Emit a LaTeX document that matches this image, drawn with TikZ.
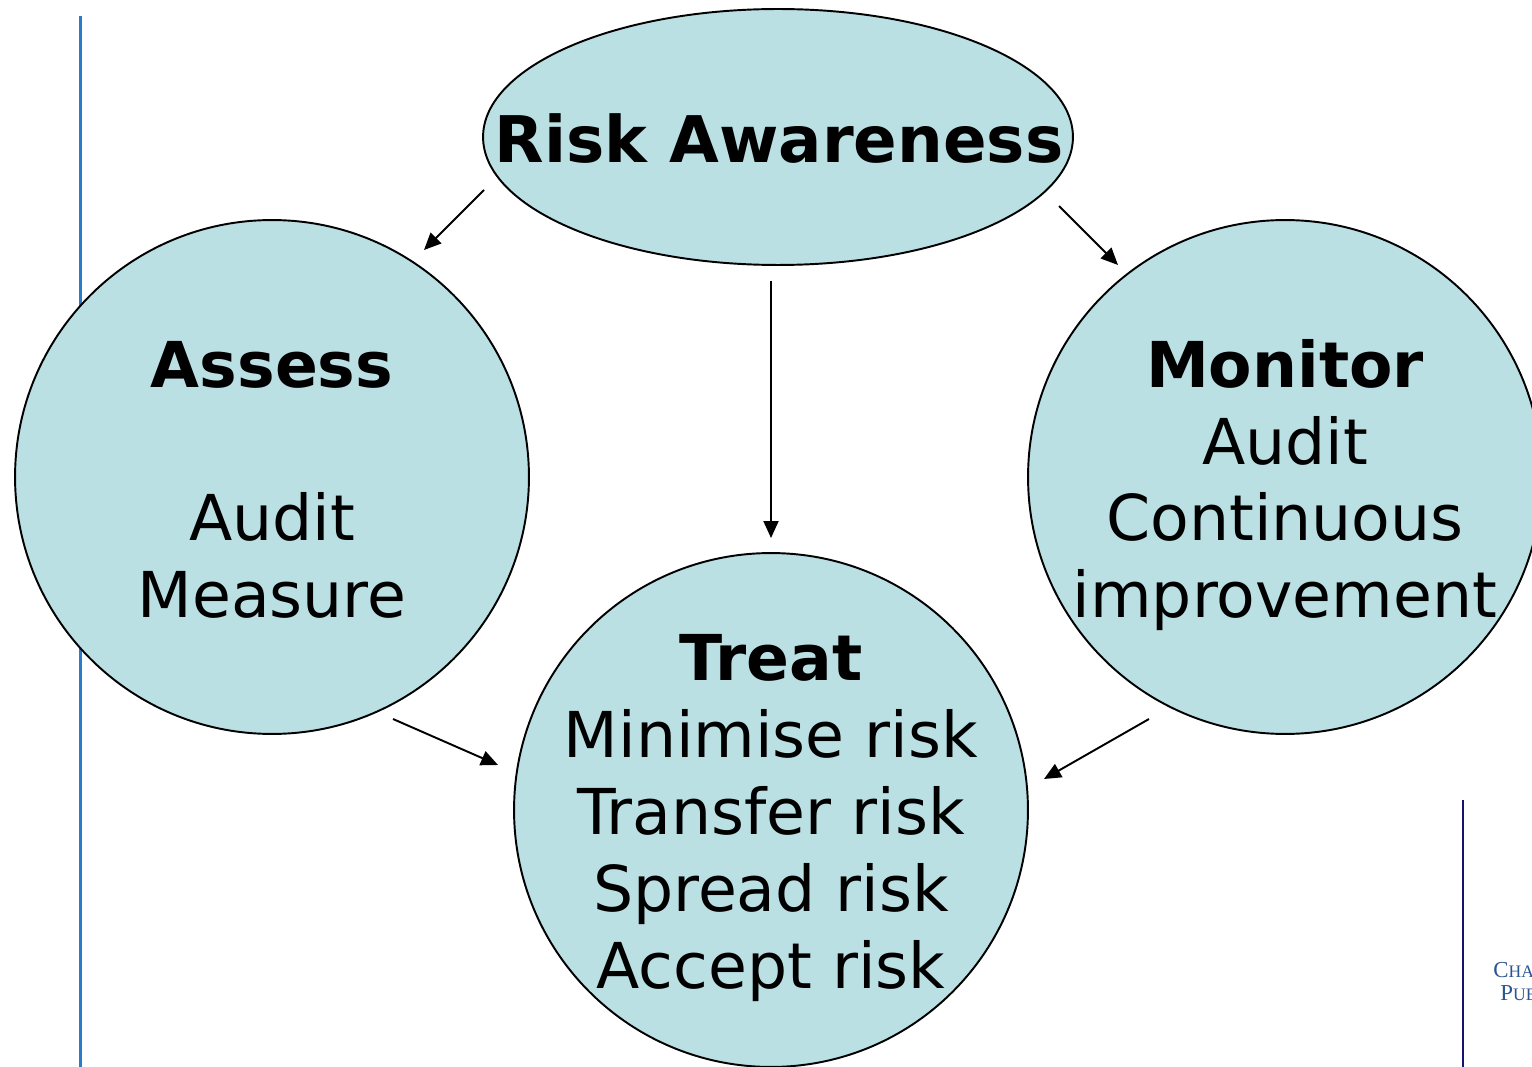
\documentclass[tikz,border=0pt]{standalone}
\usepackage{fontspec}
\setmainfont{DejaVu Sans}
\newfontfamily\logofont{Liberation Serif}
\usepackage{tikz}
\usetikzlibrary{shapes.geometric,arrows.meta,calc}
\definecolor{fillblue}{HTML}{BAE0E4}
\definecolor{sideblue}{HTML}{2A7CCB}
\definecolor{sidenavy}{HTML}{14146E}
\definecolor{logoblue}{HTML}{2A5590}

\begin{document}
\begin{tikzpicture}[x=0.02cm, y=-0.02cm,
  main/.style = {draw, circle, fill=fillblue, line width=1.1pt, minimum size=10.28cm, inner sep=0pt, outer sep=0pt},
  top/.style = {draw, ellipse, fill=fillblue, line width=1.1pt, minimum width=11.8cm, minimum height=5.12cm, inner sep=0pt, outer sep=0pt},
  words/.style = {align=center, inner sep=0pt, font=\fontsize{36}{43.7}\selectfont},
  logo/.style = {anchor=base west, inner sep=0pt, text=logoblue, font=\logofont\fontsize{13}{13}\selectfont},
  arrow/.style = {-{Triangle[length=3.4mm,width=3mm]}, line width=1.1pt}]
\useasboundingbox (0,0) rectangle (1532,1067);
\coordinate (blue1) at (80.5,16);
\coordinate (blue2) at (80.5,1067);
\coordinate (navy1) at (1463,800);
\coordinate (navy2) at (1463,1067);
\draw[sideblue, line width=1.7pt] (blue1) -- (blue2);
\draw[sidenavy, line width=1.1pt] (navy1) -- (navy2);
\node[top] (risk) at (778,137) {};
\node[main] (assess) at (272,477) {};
\node[main] (monitor) at (1285,477) {};
\node[main] (treat) at (771,810) {};
\node[words, font=\fontsize{36.6}{43.7}\selectfont] (risktext) at ($(risk)+(1,2)$) {\textbf{Risk Awareness}};
\node[words] (assesstext) at ($(assess)+(0,3)$) {\textbf{Assess}\\[43.7pt]Audit\\Measure};
\node[words] (monitortext) at ($(monitor)+(0,8)$) {\textbf{Monitor}\\Audit\\Continuous\\improvement};
\node[words] (treattext) at ($(treat)+(0,8)$) {\textbf{Treat}\\Minimise risk\\Transfer risk\\Spread risk\\Accept risk};
\node[logo] (logo1) at (1493,977) {C{\fontsize{10}{10}\selectfont HA}};
\node[logo] (logo2) at (1500,1000) {P{\fontsize{10}{10}\selectfont UB}};
\draw[arrow] ($(risk)+(-294,53)$) -- ($(assess)+(152,-227)$);
\draw[arrow] ($(risk)+(281,69)$) -- ($(monitor)+(-167,-212)$);
\draw[arrow] ($(risk)+(-7,144)$) -- ($(treat)+(0,-272)$);
\draw[arrow] ($(assess)+(121,242)$) -- ($(treat)+(-273,-45)$);
\draw[arrow] ($(monitor)+(-136,242)$) -- ($(treat)+(273,-31)$);
\end{tikzpicture}
\end{document}
